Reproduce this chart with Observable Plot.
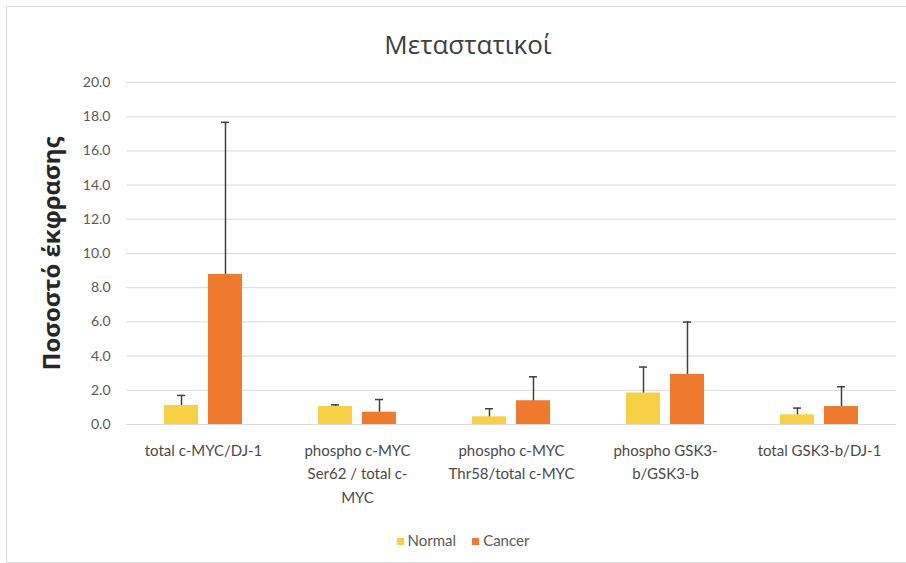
<!DOCTYPE html>
<html><head><meta charset="utf-8">
<script src="https://cdn.jsdelivr.net/npm/d3@7"></script>
<script src="https://cdn.jsdelivr.net/npm/@observablehq/plot@0.6"></script>
<style>
body{margin:0;background:#fff;}
#wrap{position:relative;width:906px;height:563px;overflow:hidden;background:#fff;font-family:Lato,"Open Sans",sans-serif;}
#frame{position:absolute;left:6px;top:6px;width:920px;height:555px;border:1px solid #d9d9d9;pointer-events:none;}
#title{height:70px;box-sizing:border-box;padding-top:25px;padding-left:30px;text-align:center;font-family:"Open Sans",sans-serif;font-size:26px;line-height:38px;color:#404040;}
#chart{height:450px;}
#chart svg{display:block;}
#legend{height:43px;padding-left:20px;text-align:center;font-size:15px;line-height:40px;color:#595959;}
.sw{display:inline-block;width:7px;height:7px;margin-right:4px;vertical-align:middle;position:relative;top:-1px;}
.item{margin:0 8px;}
</style></head>
<body>
<div id="wrap">
<div id="title"></div>
<div id="chart"></div>
<div id="legend"></div>
<div id="frame"></div>
</div>
<script>
const titleText = "Μεταστατικοί";
const yLabel = "Ποσοστό έκφρασης";
const categories = ["total c-MYC/DJ-1", "phospho c-MYC Ser62 / total c-MYC", "phospho c-MYC Thr58/total c-MYC", "phospho GSK3-b/GSK3-b", "total GSK3-b/DJ-1"];
const categoryLabels = ["total c-MYC/DJ-1", "phospho c-MYC\nSer62 / total c-\nMYC", "phospho c-MYC\nThr58/total c-MYC", "phospho GSK3-\nb/GSK3-b", "total GSK3-b/DJ-1"];
const series = ["Normal", "Cancer"];
const normalMean = [1.11, 1.05, 0.45, 1.84, 0.57];
const normalErr = [0.59, 0.10, 0.47, 1.52, 0.39];
const cancerMean = [8.77, 0.72, 1.39, 2.93, 1.05];
const cancerErr = [8.90, 0.74, 1.40, 3.06, 1.16];
const yTicks = [0, 2, 4, 6, 8, 10, 12, 14, 16, 18, 20];
const colors = ["#F7D046", "#ED7A2D"];

const data = [];
categories.forEach((c, i) => {
  data.push({cat: c, s: "Normal", v: normalMean[i], e: normalErr[i]});
  data.push({cat: c, s: "Cancer", v: cancerMean[i], e: cancerErr[i]});
});
const labelMap = new Map(categories.map((c, i) => [c, categoryLabels[i]]));

document.getElementById("title").textContent = titleText;

const chart = Plot.plot({
  width: 906,
  height: 450,
  marginTop: 12,
  marginBottom: 96,
  marginLeft: 124,
  marginRight: 8,
  style: {fontFamily: "Lato, 'Open Sans', sans-serif", fontSize: "14px", color: "#595959", background: "#fff"},
  fx: {domain: categories, padding: 0, label: null, axis: null},
  x: {domain: series, paddingInner: 0.227, paddingOuter: 0.85, axis: null},
  y: {domain: [0, 20], label: null, axis: null},
  color: {domain: series, range: colors},
  marks: [
    Plot.gridY(yTicks, {stroke: "#d9d9d9", strokeOpacity: 1, strokeWidth: 1}),
    Plot.barY(data, {fx: "cat", x: "s", y: "v", fill: "s"}),
    Plot.ruleX(data, {fx: "cat", x: "s", y1: "v", y2: d => d.v + d.e, stroke: "#404040", strokeWidth: 1.5}),
    Plot.tickY(data, {fx: "cat", x: "s", y: d => d.v + d.e, stroke: "#404040", strokeWidth: 1.5, insetLeft: 13, insetRight: 13}),
    Plot.axisY({ticks: yTicks, tickFormat: d3.format(".1f"), tickSize: 0, tickPadding: 16, label: null, fill: "#595959", fontSize: 14}),
    Plot.axisY({ticks: [], label: yLabel, labelArrow: false, labelAnchor: "center", labelOffset: 84, fontSize: 24, fontWeight: "bold", fill: "#262626", fontFamily: "'Open Sans', sans-serif"}),
    Plot.axisFx({anchor: "bottom", tickSize: 0, tickPadding: 15, tickFormat: d => labelMap.get(d), label: null, lineHeight: 1.55, fontSize: 15, fill: "#4a4a4a"})
  ]
});
document.getElementById("chart").appendChild(chart);

const legend = document.getElementById("legend");
series.forEach((s, i) => {
  const span = document.createElement("span");
  span.className = "item";
  const sw = document.createElement("span");
  sw.className = "sw";
  sw.style.background = colors[i];
  span.appendChild(sw);
  span.appendChild(document.createTextNode(s));
  legend.appendChild(span);
});
</script>
</body></html>
